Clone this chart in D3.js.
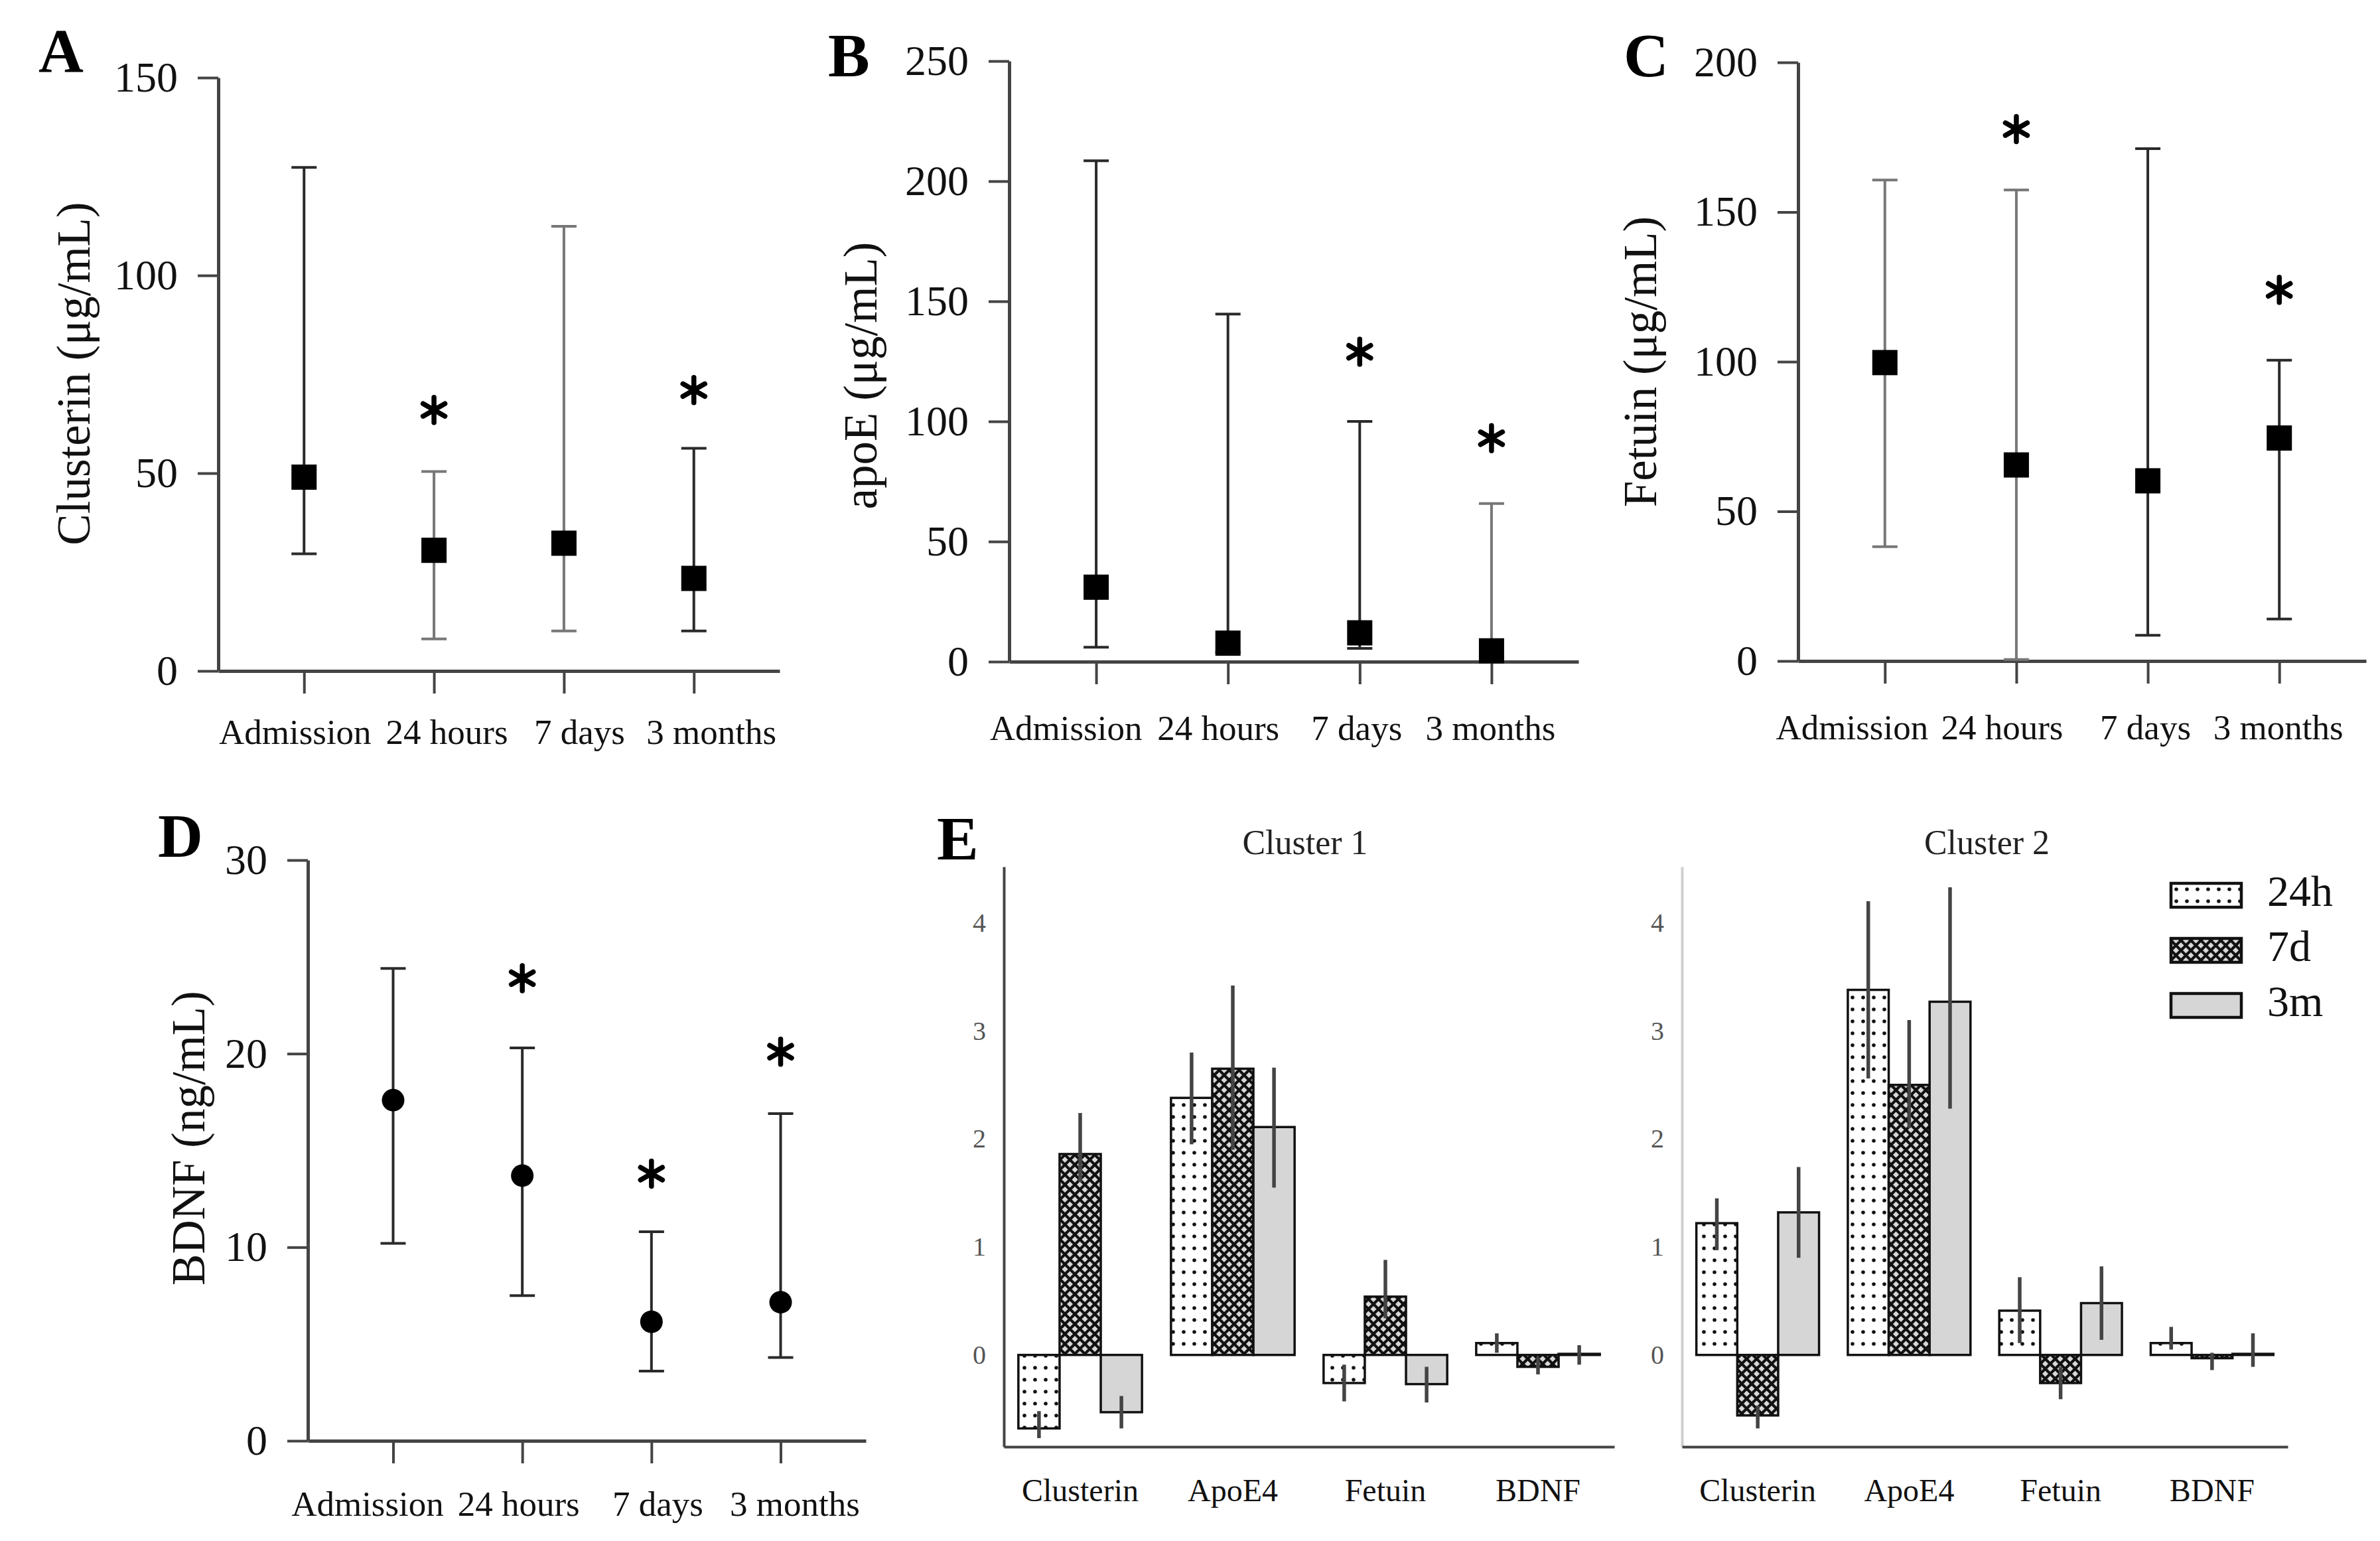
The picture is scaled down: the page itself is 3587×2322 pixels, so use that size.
<!DOCTYPE html>
<html><head><meta charset="utf-8">
<script src="https://cdn.jsdelivr.net/npm/d3@7"></script>
<style>
body{margin:0;background:#fff}
svg{display:block;background:#fff}
text{font-family:"Liberation Serif","Times New Roman",serif}
</style>
</head><body>
<svg id="chart" width="3587" height="2322"></svg>
<script>
// ---------------- data ----------------
const timepoints = ["Admission", "24 hours", "7 days", "3 months"];

const clusterinMedian = [49, 30.5, 32.3, 23.4];
const clusterinLow    = [29.6, 8.1, 10.1, 10.1];
const clusterinHigh   = [127.3, 50.4, 112.4, 56.3];
const clusterinStar   = [null, 66, null, 71];
const clusterinTicks  = [0, 50, 100, 150];

const apoEMedian = [31, 7.7, 12, 4.5];
const apoELow    = [6, 4, 5.5, 2];
const apoEHigh   = [208.5, 144.7, 100, 65.8];
const apoEStar   = [null, null, 129, 93];
const apoETicks  = [0, 50, 100, 150, 200, 250];

const fetuinMedian = [99.7, 65.5, 60.2, 74.5];
const fetuinLow    = [38.2, 0.5, 8.6, 14];
const fetuinHigh   = [160.7, 157.4, 171.2, 100.5];
const fetuinStar   = [null, 177.7, null, 124];
const fetuinTicks  = [0, 50, 100, 150, 200];

const bdnfMedian = [17.6, 13.7, 6.15, 7.16];
const bdnfLow    = [10.2, 7.5, 3.6, 4.3];
const bdnfHigh   = [24.4, 20.3, 10.8, 16.9];
const bdnfStar   = [null, 23.9, 13.8, 20.1];
const bdnfTicks  = [0, 10, 20, 30];

const markers = ["Clusterin", "ApoE4", "Fetuin", "BDNF"];
const periods = ["24h", "7d", "3m"];
const eTicks = [0, 1, 2, 3, 4];

const c1_24h = [-0.68, 2.38, -0.26, 0.11];
const c1_7d  = [1.86, 2.65, 0.54, -0.11];
const c1_3m  = [-0.53, 2.11, -0.27, 0.01];
const c1_24hLo = [-0.77, 1.95, -0.43, 0.02], c1_24hHi = [-0.52, 2.80, -0.09, 0.20];
const c1_7dLo  = [1.60, 1.90, 0.34, -0.18],  c1_7dHi  = [2.24, 3.42, 0.88, -0.02];
const c1_3mLo  = [-0.68, 1.55, -0.44, -0.09], c1_3mHi = [-0.38, 2.66, -0.11, 0.09];

const c2_24h = [1.22, 3.38, 0.41, 0.11];
const c2_7d  = [-0.56, 2.50, -0.26, -0.03];
const c2_3m  = [1.32, 3.27, 0.48, 0.01];
const c2_24hLo = [0.97, 2.56, 0.11, 0.05],  c2_24hHi = [1.45, 4.20, 0.72, 0.26];
const c2_7dLo  = [-0.68, 2.10, -0.41, -0.14], c2_7dHi = [-0.47, 3.10, -0.11, 0.02];
const c2_3mLo  = [0.90, 2.28, 0.14, -0.11], c2_3mHi = [1.74, 4.33, 0.82, 0.20];

// ---------------- drawing ----------------
const FONT = '"Liberation Serif","Times New Roman",serif';
const svg = d3.select("#chart");
svg.append("rect").attr("width", 3587).attr("height", 2322).attr("fill", "#fff");

// patterns
const defs = svg.append("defs");
const pDots = defs.append("pattern").attr("id", "dots").attr("patternUnits", "userSpaceOnUse")
  .attr("width", 16).attr("height", 18);
pDots.append("rect").attr("width", 16).attr("height", 18).attr("fill", "#fff");
pDots.append("circle").attr("cx", 8).attr("cy", 9).attr("r", 2.8).attr("fill", "#111");
const pX = defs.append("pattern").attr("id", "xhatch").attr("patternUnits", "userSpaceOnUse")
  .attr("width", 15).attr("height", 15);
pX.append("rect").attr("width", 15).attr("height", 15).attr("fill", "#d8d8d8");
pX.append("path").attr("d", "M0,0L15,15M15,0L0,15M-1,14L1,16M14,-1L16,1")
  .attr("stroke", "#111").attr("stroke-width", 4.2);
const periodFill = {"24h": "url(#dots)", "7d": "url(#xhatch)", "3m": "#d6d6d6"};

function letter(t, x, y) {
  svg.append("text").attr("x", x).attr("y", y).attr("font-size", 94)
    .attr("font-weight", "bold").attr("fill", "#000").text(t);
}

function dotPanel(cfg) {
  const g = svg.append("g");
  const y = d3.scaleLinear().domain([0, cfg.ticks[cfg.ticks.length - 1]]).range([cfg.yb, cfg.yt]);
  const x = d3.scalePoint().domain(timepoints).range([cfg.x0, cfg.x1]).padding(0.66);

  const ya = g.append("g").attr("transform", `translate(${cfg.x0},0)`)
    .call(d3.axisLeft(y).tickValues(cfg.ticks).tickSize(31).tickPadding(30).tickSizeOuter(0));
  const xa = g.append("g").attr("transform", `translate(0,${cfg.yb})`)
    .call(d3.axisBottom(x).tickSize(34).tickPadding(cfg.xpad).tickSizeOuter(0));
  [ya, xa].forEach(a => {
    a.select(".domain").attr("stroke", "#444").attr("stroke-width", 5);
    a.selectAll(".tick line").attr("stroke", "#444").attr("stroke-width", 4);
    a.selectAll("text").attr("fill", "#111").style("font-family", FONT);
  });
  ya.selectAll("text").attr("font-size", 64);
  xa.selectAll("text").attr("font-size", 53).attr("dx", (d, i) => cfg.xdx[i]);

  g.append("text").attr("transform", `translate(${cfg.tx},${cfg.ty}) rotate(-90)`)
    .attr("text-anchor", "middle").attr("dominant-baseline", "central")
    .attr("font-size", 71).attr("fill", "#111").text(cfg.title);

  const rows = timepoints.map((t, i) => ({t, m: cfg.med[i], lo: cfg.lo[i], hi: cfg.hi[i], s: cfg.star[i], tone: cfg.tone[i]}));
  const cap = 19;
  const w = g.append("g").selectAll("g").data(rows).join("g").attr("stroke", d => d.tone).attr("stroke-width", 4);
  w.append("line").attr("x1", d => x(d.t)).attr("x2", d => x(d.t)).attr("y1", d => y(d.lo)).attr("y2", d => y(d.hi));
  w.append("line").attr("x1", d => x(d.t) - cap).attr("x2", d => x(d.t) + cap).attr("y1", d => y(d.hi)).attr("y2", d => y(d.hi));
  w.append("line").attr("x1", d => x(d.t) - cap).attr("x2", d => x(d.t) + cap).attr("y1", d => y(d.lo)).attr("y2", d => y(d.lo));

  if (cfg.shape === "square") {
    g.append("g").selectAll("rect").data(rows).join("rect")
      .attr("x", d => x(d.t) - 19).attr("y", d => y(d.m) - 19).attr("width", 38).attr("height", 38).attr("fill", "#000");
  } else {
    g.append("g").selectAll("circle").data(rows).join("circle")
      .attr("cx", d => x(d.t)).attr("cy", d => y(d.m)).attr("r", 17).attr("fill", "#000");
  }
  // significance asterisks
  const starPath = "M0,-19L0,19M-16.5,-9.5L16.5,9.5M-16.5,9.5L16.5,-9.5";
  g.append("g").selectAll("path").data(rows.filter(d => d.s != null)).join("path")
    .attr("transform", d => `translate(${x(d.t)},${y(d.s)})`)
    .attr("d", starPath).attr("stroke", "#000").attr("stroke-width", 7.5).attr("stroke-linecap", "round");
}

const dark = "#2a2a2a", grey = "#777";
dotPanel({x0: 329, x1: 1175, yb: 1011, yt: 117, ticks: clusterinTicks, med: clusterinMedian, lo: clusterinLow, hi: clusterinHigh, star: clusterinStar,
  tone: [dark, grey, grey, dark], shape: "square", title: "Clusterin (μg/mL)", tx: 111, ty: 563, xpad: 38, xdx: [-14, 19, 23, 26]});
dotPanel({x0: 1521, x1: 2379, yb: 997, yt: 92, ticks: apoETicks, med: apoEMedian, lo: apoELow, hi: apoEHigh, star: apoEStar,
  tone: [dark, dark, dark, grey], shape: "square", title: "apoE (μg/mL)", tx: 1297, ty: 566, xpad: 46, xdx: [-46, -15, -5, -2]});
dotPanel({x0: 2710, x1: 3566, yb: 996, yt: 94, ticks: fetuinTicks, med: fetuinMedian, lo: fetuinLow, hi: fetuinHigh, star: fetuinStar,
  tone: [grey, grey, dark, dark], shape: "square", title: "Fetuin (μg/mL)", tx: 2472, ty: 545, xpad: 46, xdx: [-50, -22, -4, -2]});
dotPanel({x0: 464, x1: 1305, yb: 2171, yt: 1296, ticks: bdnfTicks, med: bdnfMedian, lo: bdnfLow, hi: bdnfHigh, star: bdnfStar,
  tone: [dark, dark, dark, dark], shape: "circle", title: "BDNF (ng/mL)", tx: 284, ty: 1715, xpad: 41, xdx: [-39, -6, 9, 21]});

letter("A", 58, 108);
letter("B", 1248, 115);
letter("C", 2447, 115);
letter("D", 238, 1291);
letter("E", 1412, 1295);

// ---------------- panel E ----------------
function barPanel(cfg) {
  const g = svg.append("g");
  const y = d3.scaleLinear().domain([-0.85, 4.52]).range([2180, 1306]);
  const x = d3.scaleBand().domain(markers).range([cfg.x0, cfg.x1]).paddingInner(0.19).paddingOuter(0.095);
  const xs = d3.scaleBand().domain(periods).range([0, x.bandwidth()]);

  const ya = g.append("g").attr("transform", `translate(${cfg.x0},0)`)
    .call(d3.axisLeft(y).tickValues(eTicks).tickFormat(d3.format("d")).tickSize(0).tickPadding(0).tickSizeOuter(0));
  ya.select(".domain").attr("stroke", cfg.yAxisColor).attr("stroke-width", 4);
  ya.selectAll(".tick text").attr("x", -37).attr("text-anchor", "middle").attr("font-size", 40)
    .attr("fill", "#555").style("font-family", FONT);

  const xa = g.append("g").attr("transform", "translate(0,2180)")
    .call(d3.axisBottom(x).tickSize(0).tickPadding(48).tickSizeOuter(0));
  xa.select(".domain").attr("stroke", "#444").attr("stroke-width", 4);
  xa.selectAll(".tick text").attr("font-size", 48).attr("fill", "#111").style("font-family", FONT);

  g.append("text").attr("x", (cfg.x0 + cfg.x1) / 2 + cfg.titleDx).attr("y", 1287).attr("text-anchor", "middle")
    .attr("font-size", 52).attr("fill", "#222").text(cfg.title);

  const rows = [];
  markers.forEach((m, i) => periods.forEach(p => rows.push({m, p, v: cfg.vals[p][i], lo: cfg.lo[p][i], hi: cfg.hi[p][i]})));
  g.append("g").selectAll("rect").data(rows).join("rect")
    .attr("x", d => x(d.m) + xs(d.p)).attr("width", xs.bandwidth())
    .attr("y", d => y(Math.max(0, d.v))).attr("height", d => Math.abs(y(d.v) - y(0)))
    .attr("fill", d => periodFill[d.p]).attr("stroke", "#111").attr("stroke-width", 3.5);
  g.append("g").selectAll("line").data(rows).join("line")
    .attr("x1", d => x(d.m) + xs(d.p) + xs.bandwidth() / 2).attr("x2", d => x(d.m) + xs(d.p) + xs.bandwidth() / 2)
    .attr("y1", d => y(d.lo)).attr("y2", d => y(d.hi))
    .attr("stroke", "#444").attr("stroke-width", 5.5);
}

barPanel({x0: 1513, x1: 2433, yAxisColor: "#444", title: "Cluster 1", titleDx: -6,
  vals: {"24h": c1_24h, "7d": c1_7d, "3m": c1_3m},
  lo: {"24h": c1_24hLo, "7d": c1_7dLo, "3m": c1_3mLo},
  hi: {"24h": c1_24hHi, "7d": c1_7dHi, "3m": c1_3mHi}});
barPanel({x0: 2535, x1: 3448, yAxisColor: "#cfcfcf", title: "Cluster 2", titleDx: 3,
  vals: {"24h": c2_24h, "7d": c2_7d, "3m": c2_3m},
  lo: {"24h": c2_24hLo, "7d": c2_7dLo, "3m": c2_3mLo},
  hi: {"24h": c2_24hHi, "7d": c2_7dHi, "3m": c2_3mHi}});

// legend
const legY = d3.scalePoint().domain(periods).range([1349, 1515]);
const lg = svg.append("g").selectAll("g").data(periods).join("g")
  .attr("transform", p => `translate(3272,${legY(p)})`);
lg.append("rect").attr("x", 0).attr("y", -18).attr("width", 106).attr("height", 36)
  .attr("fill", p => periodFill[p]).attr("stroke", "#111").attr("stroke-width", 4.5);
lg.append("text").attr("x", 145).attr("y", 16).attr("font-size", 66).attr("fill", "#111").text(p => p);
</script>
</body></html>
